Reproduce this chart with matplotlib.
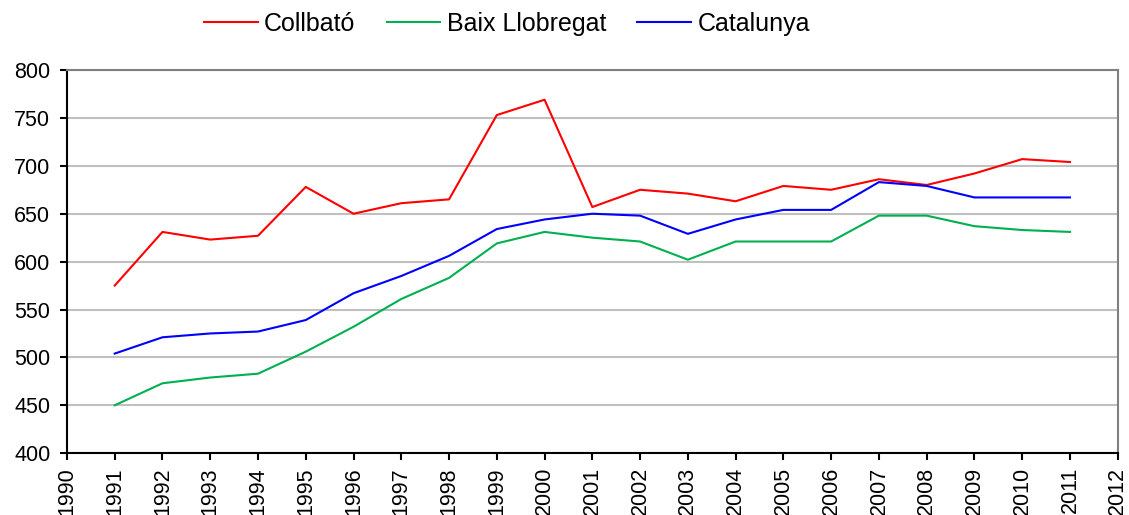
import matplotlib.pyplot as plt

years = list(range(1991, 2012))
collbato = [575, 631, 623, 627, 678, 650, 661, 665, 753, 769, 657, 675, 671, 663, 679,
            675, 686, 680, 692, 707, 704]
baix_llobregat = [450, 473, 479, 483, 506, 532, 561, 583, 619, 631, 625, 621, 602, 621, 621,
                  621, 648, 648, 637, 633, 631]
catalunya = [504, 521, 525, 527, 539, 567, 585, 606, 634, 644, 650, 648, 629, 644, 654,
             654, 683, 679, 667, 667, 667]

plt.rcParams['font.family'] = ['Liberation Sans', 'DejaVu Sans']

fig = plt.figure(figsize=(11.29, 5.15), dpi=100)
ax = fig.add_axes([0.0593, 0.120, 0.9307, 0.744])

ax.plot(years, collbato, color='#ff0000', lw=1.5, label='Collbató')
ax.plot(years, baix_llobregat, color='#00b050', lw=1.5, label='Baix Llobregat')
ax.plot(years, catalunya, color='#0000ff', lw=1.5, label='Catalunya')

ax.set_xlim(1990, 2012)
ax.set_ylim(400, 800)
ax.set_xticks(range(1990, 2013))
ax.set_yticks(range(400, 801, 50))
ax.tick_params(axis='x', labelrotation=90, labelsize=15.5, direction='out', length=5, width=1.5, pad=5)
ax.tick_params(axis='y', labelsize=15.5, direction='out', length=5, width=1.5, pad=7)
ax.yaxis.grid(True, color='#c0c0c0', lw=1.5)
ax.set_axisbelow(True)

ax.spines['left'].set_linewidth(1.5)
ax.spines['bottom'].set_linewidth(1.5)
for s in ['top', 'right']:
    ax.spines[s].set_color('#808080')
    ax.spines[s].set_linewidth(1.5)

fig.legend(loc='upper center', bbox_to_anchor=(0.449, 1.02), ncol=3, frameon=False,
           fontsize=18, handlelength=2.15, columnspacing=1.25, handletextpad=0.25)

fig.savefig('out.png', dpi=100)
